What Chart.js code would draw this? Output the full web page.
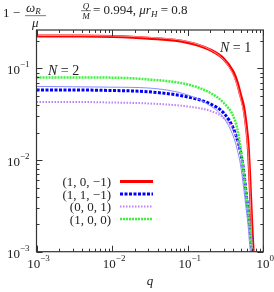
<!DOCTYPE html>
<html><head><meta charset="utf-8">
<script src="https://cdn.jsdelivr.net/npm/chart.js@4/dist/chart.umd.min.js"></script>
<style>html,body{margin:0;padding:0;background:#fff;}canvas{display:block;}</style>
</head><body>
<canvas id="c" width="274" height="292"></canvas>
<script>
// q grid
const q = [0.001, 0.003, 0.01, 0.03, 0.1, 0.2, 0.3, 0.4, 0.45, 0.5, 0.55, 0.6, 0.63, 0.66, 0.7, 0.73, 0.76];
// series values (1 - omega_R/mu)
const s101  = [0.2265, 0.2260, 0.2234, 0.2138, 0.1923, 0.159, 0.127, 0.0916, 0.0712, 0.0514, 0.0380, 0.0224, 0.01462, 0.00687, 0.00222, 0.001096, 0.000556];
const s11m1 = [0.0582, 0.0582, 0.0575, 0.0557, 0.0489, 0.0410, 0.0326, 0.0224, 0.0170, 0.01226, 0.00760, 0.00395, 0.00275, 0.00193, 0.001213, 0.000875, 0.00063];
const s001  = [0.0431, 0.0431, 0.0425, 0.0415, 0.0385, 0.0344, 0.0288, 0.0213, 0.01656, 0.01195, 0.00741, 0.00386, 0.00271, 0.00191, 0.001213, 0.000875, 0.00063];
const s100  = [0.0797, 0.0797, 0.0794, 0.0759, 0.0669, 0.0540, 0.0420, 0.0303, 0.0224, 0.01355, 0.00741, 0.00386, 0.00271, 0.00191, 0.001213, 0.000875, 0.00063];
// thin reference curves
const thinRed  = [0.229, 0.229, 0.227, 0.219, 0.197, 0.160, 0.124, 0.086, 0.066, 0.047, 0.033, 0.019, 0.012, 0.0055, 0.0016, 0.0007, 0.0003];
const thinBlue = [0.0636, 0.0632, 0.0625, 0.0612, 0.0514, 0.039, 0.0288, 0.0183, 0.0132, 0.00885, 0.00496, 0.00271, 0.00191, 0.00119, 0.00078, 0.0005, 0.0003];
const legendLabels = ['(1, 0, \u22121)', '(1, 1, \u22121)', '(0, 0, 1)', '(1, 0, 0)'];
const xTicks = [0.001, 0.01, 0.1, 1];
const xTickExp = ['\u22123', '\u22122', '\u22121', '0'];
const yTicks = [0.001, 0.01, 0.1];
const yTickExp = ['\u22123', '\u22122', '\u22121'];

const pts = v => q.map((x, i) => ({x: x, y: v[i]}));
const SERIF = '"Liberation Serif", "DejaVu Serif", serif';

const datasets = [
  {label: '', data: pts(thinRed), borderColor: '#ff8c8c', borderWidth: 1, legend: false},
  {label: '', data: pts(thinBlue), borderColor: '#8c8cff', borderWidth: 1, legend: false},
  {label: legendLabels[3], data: pts(s100), borderColor: '#3ff03f', borderWidth: 2.5, borderDash: [2, 1], legend: true, li: 3},
  {label: legendLabels[2], data: pts(s001), borderColor: '#bf80ff', borderWidth: 2, borderDash: [1.5, 1.5], legend: true, li: 2},
  {label: legendLabels[1], data: pts(s11m1), borderColor: '#0000ff', borderWidth: 3, borderDash: [3, 1.5], legend: true, li: 1},
  {label: legendLabels[0], data: pts(s101), borderColor: '#ff0000', borderWidth: 3, legend: true, li: 0},
];
datasets.forEach(d => { d.pointRadius = 0; d.fill = false; d.cubicInterpolationMode = 'monotone'; });

function drawRuns(ctx, x, y, runs, align) {
  let w = 0;
  runs.forEach(r => { ctx.font = r.f; w += ctx.measureText(r.t).width; });
  let cx = align === 'right' ? x - w : (align === 'center' ? x - w / 2 : x);
  runs.forEach(r => { ctx.font = r.f; ctx.fillText(r.t, cx, y + (r.dy || 0)); cx += ctx.measureText(r.t).width; });
}

const deco = {
  id: 'deco',
  afterDraw(chart) {
    const ctx = chart.ctx, a = chart.chartArea;
    const xs = chart.scales.x, ys = chart.scales.y;
    ctx.save();
    // frame
    ctx.strokeStyle = '#333'; ctx.lineWidth = 1.2;
    ctx.strokeRect(a.left, a.top, a.right - a.left, a.bottom - a.top);
    ctx.lineWidth = 1;
    // ticks
    ctx.beginPath();
    for (let e = -3; e <= 0; e++) {
      for (let m = 1; m <= 9; m++) {
        const v = m * Math.pow(10, e);
        if (v > 1.0001) break;
        const px = Math.round(xs.getPixelForValue(v)) + 0.5;
        const L = m === 1 ? 6 : 3;
        ctx.moveTo(px, a.bottom); ctx.lineTo(px, a.bottom - L);
        ctx.moveTo(px, a.top); ctx.lineTo(px, a.top + L);
      }
    }
    for (let e = -3; e <= -1; e++) {
      for (let m = 1; m <= 9; m++) {
        const v = m * Math.pow(10, e);
        if (v > ys.max) break;
        const py = Math.round(ys.getPixelForValue(v)) + 0.5;
        const L = m === 1 ? 6 : 3;
        ctx.moveTo(a.left, py); ctx.lineTo(a.left + L, py);
        ctx.moveTo(a.right, py); ctx.lineTo(a.right - L, py);
      }
    }
    ctx.stroke();
    // tick labels
    ctx.fillStyle = '#222'; ctx.textBaseline = 'alphabetic';
    const big = '13px ' + SERIF, sup = '9px ' + SERIF;
    xTicks.forEach((v, i) => {
      const px = xs.getPixelForValue(v);
      drawRuns(ctx, px + 2, 268, [{t: '10', f: big}, {t: xTickExp[i], f: sup, dy: -7}], 'center');
    });
    yTicks.forEach((v, i) => {
      const py = ys.getPixelForValue(v);
      drawRuns(ctx, a.left - 7, py + 6, [{t: '10', f: big}, {t: yTickExp[i], f: sup, dy: -7}], 'right');
    });
    // axis label
    ctx.font = 'italic 13px ' + SERIF; ctx.textAlign = 'center';
    ctx.fillText('q', (a.left + a.right) / 2, 285);
    ctx.textAlign = 'left';
    // legend
    const ly = [181.5, 194, 206.5, 219];
    chart.data.datasets.forEach(d => {
      if (!d.legend) return;
      const y = ly[d.li];
      ctx.fillStyle = '#222';
      drawRuns(ctx, 111, y + 4.5, [{t: d.label, f: '13px ' + SERIF}], 'right');
      ctx.beginPath();
      ctx.strokeStyle = d.borderColor; ctx.lineWidth = d.borderWidth;
      ctx.setLineDash(d.borderDash || []);
      ctx.moveTo(120, y); ctx.lineTo(153, y); ctx.stroke();
      ctx.setLineDash([]);
    });
    // annotations
    ctx.fillStyle = '#222';
    drawRuns(ctx, 220, 52, [{t: 'N', f: 'italic 14px ' + SERIF}, {t: ' = 1', f: '14px ' + SERIF}], 'left');
    drawRuns(ctx, 48, 75, [{t: 'N', f: 'italic 14px ' + SERIF}, {t: ' = 2', f: '14px ' + SERIF}], 'left');
    // title: 1 - omega_R / mu
    drawRuns(ctx, 3, 17, [{t: '1 \u2212', f: '13px ' + SERIF}], 'left');
    drawRuns(ctx, 26, 12, [{t: '\u03c9', f: 'italic 13px ' + SERIF}, {t: 'R', f: 'italic 9px ' + SERIF, dy: 2}], 'left');
    ctx.fillRect(25, 15.5, 21, 0.6);
    drawRuns(ctx, 32, 27, [{t: '\u03bc', f: 'italic 13px ' + SERIF}], 'left');
    // Q/M = 0.994, mu r_H = 0.8
    drawRuns(ctx, 86, 8.5, [{t: 'Q', f: 'italic 9px ' + SERIF}], 'center');
    ctx.fillRect(81, 10.5, 10, 0.6);
    drawRuns(ctx, 86, 18.5, [{t: 'M', f: 'italic 9px ' + SERIF}], 'center');
    drawRuns(ctx, 93, 14, [
      {t: '= 0.994, ', f: '13px ' + SERIF},
      {t: '\u03bcr', f: 'italic 13px ' + SERIF},
      {t: 'H', f: 'italic 9px ' + SERIF, dy: 3},
      {t: ' = 0.8', f: '13px ' + SERIF}], 'left');
    ctx.restore();
  }
};

new Chart(document.getElementById('c'), {
  type: 'line',
  data: {datasets: datasets},
  options: {
    responsive: false, animation: false, devicePixelRatio: 1,
    layout: {padding: {left: 36.5, right: 10.7, top: 30, bottom: 40.3}},
    plugins: {legend: {display: false}, tooltip: {enabled: false}},
    scales: {
      x: {type: 'logarithmic', min: 0.001, max: 1, display: false},
      y: {type: 'logarithmic', min: 0.001, max: 0.263, display: false}
    }
  },
  plugins: [deco]
});
</script>
</body></html>
